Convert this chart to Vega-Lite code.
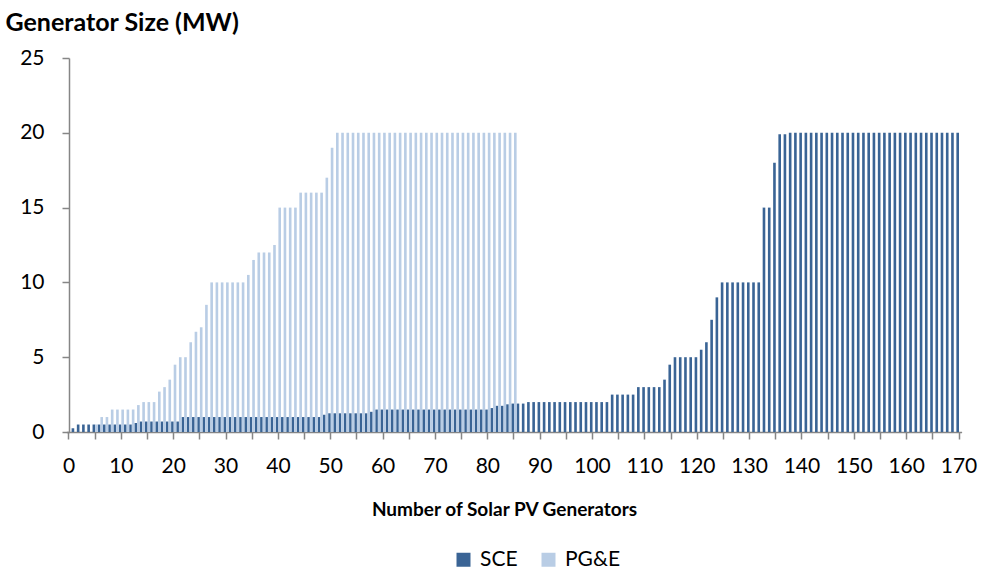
{
"$schema": "https://vega.github.io/schema/vega-lite/v6.json",
"width": 890, "height": 374,
"autosize": {"type": "none"},
"padding": {"left": 69, "top": 58, "right": 24, "bottom": 137},
"config": {"view": {"stroke": null}, "font": "Lato"},
"data": {"values": [
{"n":1,"s":"SCE","v":0.25},{"n":2,"s":"SCE","v":0.5},{"n":3,"s":"SCE","v":0.5},{"n":4,"s":"SCE","v":0.5},{"n":5,"s":"SCE","v":0.5},{"n":6,"s":"SCE","v":0.5},{"n":7,"s":"SCE","v":0.5},{"n":8,"s":"SCE","v":0.5},{"n":9,"s":"SCE","v":0.5},{"n":10,"s":"SCE","v":0.5},
{"n":11,"s":"SCE","v":0.5},{"n":12,"s":"SCE","v":0.5},{"n":13,"s":"SCE","v":0.6},{"n":14,"s":"SCE","v":0.7},{"n":15,"s":"SCE","v":0.7},{"n":16,"s":"SCE","v":0.7},{"n":17,"s":"SCE","v":0.7},{"n":18,"s":"SCE","v":0.7},{"n":19,"s":"SCE","v":0.7},{"n":20,"s":"SCE","v":0.7},
{"n":21,"s":"SCE","v":0.7},{"n":22,"s":"SCE","v":1},{"n":23,"s":"SCE","v":1},{"n":24,"s":"SCE","v":1},{"n":25,"s":"SCE","v":1},{"n":26,"s":"SCE","v":1},{"n":27,"s":"SCE","v":1},{"n":28,"s":"SCE","v":1},{"n":29,"s":"SCE","v":1},{"n":30,"s":"SCE","v":1},
{"n":31,"s":"SCE","v":1},{"n":32,"s":"SCE","v":1},{"n":33,"s":"SCE","v":1},{"n":34,"s":"SCE","v":1},{"n":35,"s":"SCE","v":1},{"n":36,"s":"SCE","v":1},{"n":37,"s":"SCE","v":1},{"n":38,"s":"SCE","v":1},{"n":39,"s":"SCE","v":1},{"n":40,"s":"SCE","v":1},
{"n":41,"s":"SCE","v":1},{"n":42,"s":"SCE","v":1},{"n":43,"s":"SCE","v":1},{"n":44,"s":"SCE","v":1},{"n":45,"s":"SCE","v":1},{"n":46,"s":"SCE","v":1},{"n":47,"s":"SCE","v":1},{"n":48,"s":"SCE","v":1},{"n":49,"s":"SCE","v":1.15},{"n":50,"s":"SCE","v":1.25},
{"n":51,"s":"SCE","v":1.25},{"n":52,"s":"SCE","v":1.25},{"n":53,"s":"SCE","v":1.25},{"n":54,"s":"SCE","v":1.25},{"n":55,"s":"SCE","v":1.25},{"n":56,"s":"SCE","v":1.25},{"n":57,"s":"SCE","v":1.25},{"n":58,"s":"SCE","v":1.35},{"n":59,"s":"SCE","v":1.5},{"n":60,"s":"SCE","v":1.5},
{"n":61,"s":"SCE","v":1.5},{"n":62,"s":"SCE","v":1.5},{"n":63,"s":"SCE","v":1.5},{"n":64,"s":"SCE","v":1.5},{"n":65,"s":"SCE","v":1.5},{"n":66,"s":"SCE","v":1.5},{"n":67,"s":"SCE","v":1.5},{"n":68,"s":"SCE","v":1.5},{"n":69,"s":"SCE","v":1.5},{"n":70,"s":"SCE","v":1.5},
{"n":71,"s":"SCE","v":1.5},{"n":72,"s":"SCE","v":1.5},{"n":73,"s":"SCE","v":1.5},{"n":74,"s":"SCE","v":1.5},{"n":75,"s":"SCE","v":1.5},{"n":76,"s":"SCE","v":1.5},{"n":77,"s":"SCE","v":1.5},{"n":78,"s":"SCE","v":1.5},{"n":79,"s":"SCE","v":1.5},{"n":80,"s":"SCE","v":1.5},
{"n":81,"s":"SCE","v":1.6},{"n":82,"s":"SCE","v":1.75},{"n":83,"s":"SCE","v":1.75},{"n":84,"s":"SCE","v":1.85},{"n":85,"s":"SCE","v":1.9},{"n":86,"s":"SCE","v":1.9},{"n":87,"s":"SCE","v":1.9},{"n":88,"s":"SCE","v":2},{"n":89,"s":"SCE","v":2},{"n":90,"s":"SCE","v":2},
{"n":91,"s":"SCE","v":2},{"n":92,"s":"SCE","v":2},{"n":93,"s":"SCE","v":2},{"n":94,"s":"SCE","v":2},{"n":95,"s":"SCE","v":2},{"n":96,"s":"SCE","v":2},{"n":97,"s":"SCE","v":2},{"n":98,"s":"SCE","v":2},{"n":99,"s":"SCE","v":2},{"n":100,"s":"SCE","v":2},
{"n":101,"s":"SCE","v":2},{"n":102,"s":"SCE","v":2},{"n":103,"s":"SCE","v":2},{"n":104,"s":"SCE","v":2.5},{"n":105,"s":"SCE","v":2.5},{"n":106,"s":"SCE","v":2.5},{"n":107,"s":"SCE","v":2.5},{"n":108,"s":"SCE","v":2.5},{"n":109,"s":"SCE","v":3},{"n":110,"s":"SCE","v":3},
{"n":111,"s":"SCE","v":3},{"n":112,"s":"SCE","v":3},{"n":113,"s":"SCE","v":3},{"n":114,"s":"SCE","v":3.5},{"n":115,"s":"SCE","v":4.5},{"n":116,"s":"SCE","v":5},{"n":117,"s":"SCE","v":5},{"n":118,"s":"SCE","v":5},{"n":119,"s":"SCE","v":5},{"n":120,"s":"SCE","v":5},
{"n":121,"s":"SCE","v":5.5},{"n":122,"s":"SCE","v":6},{"n":123,"s":"SCE","v":7.5},{"n":124,"s":"SCE","v":9},{"n":125,"s":"SCE","v":10},{"n":126,"s":"SCE","v":10},{"n":127,"s":"SCE","v":10},{"n":128,"s":"SCE","v":10},{"n":129,"s":"SCE","v":10},{"n":130,"s":"SCE","v":10},
{"n":131,"s":"SCE","v":10},{"n":132,"s":"SCE","v":10},{"n":133,"s":"SCE","v":15},{"n":134,"s":"SCE","v":15},{"n":135,"s":"SCE","v":18},{"n":136,"s":"SCE","v":19.9},{"n":137,"s":"SCE","v":19.9},{"n":138,"s":"SCE","v":20},{"n":139,"s":"SCE","v":20},{"n":140,"s":"SCE","v":20},
{"n":141,"s":"SCE","v":20},{"n":142,"s":"SCE","v":20},{"n":143,"s":"SCE","v":20},{"n":144,"s":"SCE","v":20},{"n":145,"s":"SCE","v":20},{"n":146,"s":"SCE","v":20},{"n":147,"s":"SCE","v":20},{"n":148,"s":"SCE","v":20},{"n":149,"s":"SCE","v":20},{"n":150,"s":"SCE","v":20},
{"n":151,"s":"SCE","v":20},{"n":152,"s":"SCE","v":20},{"n":153,"s":"SCE","v":20},{"n":154,"s":"SCE","v":20},{"n":155,"s":"SCE","v":20},{"n":156,"s":"SCE","v":20},{"n":157,"s":"SCE","v":20},{"n":158,"s":"SCE","v":20},{"n":159,"s":"SCE","v":20},{"n":160,"s":"SCE","v":20},
{"n":161,"s":"SCE","v":20},{"n":162,"s":"SCE","v":20},{"n":163,"s":"SCE","v":20},{"n":164,"s":"SCE","v":20},{"n":165,"s":"SCE","v":20},{"n":166,"s":"SCE","v":20},{"n":167,"s":"SCE","v":20},{"n":168,"s":"SCE","v":20},{"n":169,"s":"SCE","v":20},{"n":170,"s":"SCE","v":20},
{"n":1,"s":"PG&E","v":0},{"n":2,"s":"PG&E","v":0},{"n":3,"s":"PG&E","v":0},{"n":4,"s":"PG&E","v":0},{"n":5,"s":"PG&E","v":0.5},{"n":6,"s":"PG&E","v":1},{"n":7,"s":"PG&E","v":1},{"n":8,"s":"PG&E","v":1.5},{"n":9,"s":"PG&E","v":1.5},{"n":10,"s":"PG&E","v":1.5},
{"n":11,"s":"PG&E","v":1.5},{"n":12,"s":"PG&E","v":1.5},{"n":13,"s":"PG&E","v":1.8},{"n":14,"s":"PG&E","v":2},{"n":15,"s":"PG&E","v":2},{"n":16,"s":"PG&E","v":2},{"n":17,"s":"PG&E","v":2.7},{"n":18,"s":"PG&E","v":3},{"n":19,"s":"PG&E","v":3.5},{"n":20,"s":"PG&E","v":4.5},
{"n":21,"s":"PG&E","v":5},{"n":22,"s":"PG&E","v":5},{"n":23,"s":"PG&E","v":6},{"n":24,"s":"PG&E","v":6.7},{"n":25,"s":"PG&E","v":7},{"n":26,"s":"PG&E","v":8.5},{"n":27,"s":"PG&E","v":10},{"n":28,"s":"PG&E","v":10},{"n":29,"s":"PG&E","v":10},{"n":30,"s":"PG&E","v":10},
{"n":31,"s":"PG&E","v":10},{"n":32,"s":"PG&E","v":10},{"n":33,"s":"PG&E","v":10},{"n":34,"s":"PG&E","v":10.5},{"n":35,"s":"PG&E","v":11.5},{"n":36,"s":"PG&E","v":12},{"n":37,"s":"PG&E","v":12},{"n":38,"s":"PG&E","v":12},{"n":39,"s":"PG&E","v":12.5},{"n":40,"s":"PG&E","v":15},
{"n":41,"s":"PG&E","v":15},{"n":42,"s":"PG&E","v":15},{"n":43,"s":"PG&E","v":15},{"n":44,"s":"PG&E","v":16},{"n":45,"s":"PG&E","v":16},{"n":46,"s":"PG&E","v":16},{"n":47,"s":"PG&E","v":16},{"n":48,"s":"PG&E","v":16},{"n":49,"s":"PG&E","v":17},{"n":50,"s":"PG&E","v":19},
{"n":51,"s":"PG&E","v":20},{"n":52,"s":"PG&E","v":20},{"n":53,"s":"PG&E","v":20},{"n":54,"s":"PG&E","v":20},{"n":55,"s":"PG&E","v":20},{"n":56,"s":"PG&E","v":20},{"n":57,"s":"PG&E","v":20},{"n":58,"s":"PG&E","v":20},{"n":59,"s":"PG&E","v":20},{"n":60,"s":"PG&E","v":20},
{"n":61,"s":"PG&E","v":20},{"n":62,"s":"PG&E","v":20},{"n":63,"s":"PG&E","v":20},{"n":64,"s":"PG&E","v":20},{"n":65,"s":"PG&E","v":20},{"n":66,"s":"PG&E","v":20},{"n":67,"s":"PG&E","v":20},{"n":68,"s":"PG&E","v":20},{"n":69,"s":"PG&E","v":20},{"n":70,"s":"PG&E","v":20},
{"n":71,"s":"PG&E","v":20},{"n":72,"s":"PG&E","v":20},{"n":73,"s":"PG&E","v":20},{"n":74,"s":"PG&E","v":20},{"n":75,"s":"PG&E","v":20},{"n":76,"s":"PG&E","v":20},{"n":77,"s":"PG&E","v":20},{"n":78,"s":"PG&E","v":20},{"n":79,"s":"PG&E","v":20},{"n":80,"s":"PG&E","v":20},
{"n":81,"s":"PG&E","v":20},{"n":82,"s":"PG&E","v":20},{"n":83,"s":"PG&E","v":20},{"n":84,"s":"PG&E","v":20},{"n":85,"s":"PG&E","v":20}
]},
"mark": {"type": "bar"},
"encoding": {
"x": {"field": "n", "type": "ordinal",
 "scale": {"domain": [0,1,2,3,4,5,6,7,8,9,10,11,12,13,14,15,16,17,18,19,20,21,22,23,24,25,26,27,28,29,30,31,32,33,34,35,36,37,38,39,40,41,42,43,44,45,46,47,48,49,50,51,52,53,54,55,56,57,58,59,60,61,62,63,64,65,66,67,68,69,70,71,72,73,74,75,76,77,78,79,80,81,82,83,84,85,86,87,88,89,90,91,92,93,94,95,96,97,98,99,100,101,102,103,104,105,106,107,108,109,110,111,112,113,114,115,116,117,118,119,120,121,122,123,124,125,126,127,128,129,130,131,132,133,134,135,136,137,138,139,140,141,142,143,144,145,146,147,148,149,150,151,152,153,154,155,156,157,158,159,160,161,162,163,164,165,166,167,168,169,170],
  "range": [-2.62, 892.62], "paddingInner": 0, "paddingOuter": 0},
 "axis": {"values": [0,5,10,15,20,25,30,35,40,45,50,55,60,65,70,75,80,85,90,95,100,105,110,115,120,125,130,135,140,145,150,155,160,165,170],
  "labelExpr": "datum.value % 10 === 0 ? datum.label : ''", "labelAngle": 0, "labelOverlap": false, "bandPosition": 0.5,
  "tickSize": 7, "tickWidth": 1.5, "tickColor": "#868686", "domainColor": "#868686", "domainWidth": 1.5,
  "labelFontSize": 21, "labelColor": "#000000", "labelPadding": 16, "grid": false,
  "title": "Number of Solar PV Generators", "titleFontSize": 19, "titleFontWeight": "bold", "titleColor": "#000000",
  "titleX": 435, "titleY": 77, "titleBaseline": "middle"}},
"xOffset": {"field": "s", "scale": {"domain": ["SCE", "PG&E"]}},
"y": {"field": "v", "type": "quantitative",
 "scale": {"domain": [0, 25], "nice": false},
 "axis": {"values": [0,5,10,15,20,25], "tickSize": 7, "tickWidth": 1.5, "tickColor": "#868686", "domainColor": "#868686", "domainWidth": 1.5,
  "labelFontSize": 21, "labelColor": "#000000", "labelPadding": 18, "grid": false,
  "title": "Generator Size (MW)", "titleAngle": 0, "titleAlign": "left", "titleBaseline": "alphabetic",
  "titleX": -64, "titleY": -28, "titleFontSize": 25, "titleFontWeight": "bold", "titleColor": "#000000"}},
"color": {"field": "s", "type": "nominal",
 "scale": {"domain": ["SCE", "PG&E"], "range": ["#3A6495", "#B9CDE5"]},
 "legend": {"orient": "none", "legendX": 384, "legendY": 491, "direction": "horizontal", "title": null,
  "symbolType": "square", "symbolSize": 196, "symbolStrokeWidth": 0, "labelFontSize": 21, "labelColor": "#000000",
  "labelOffset": 6, "columnPadding": 20}}
}
}
